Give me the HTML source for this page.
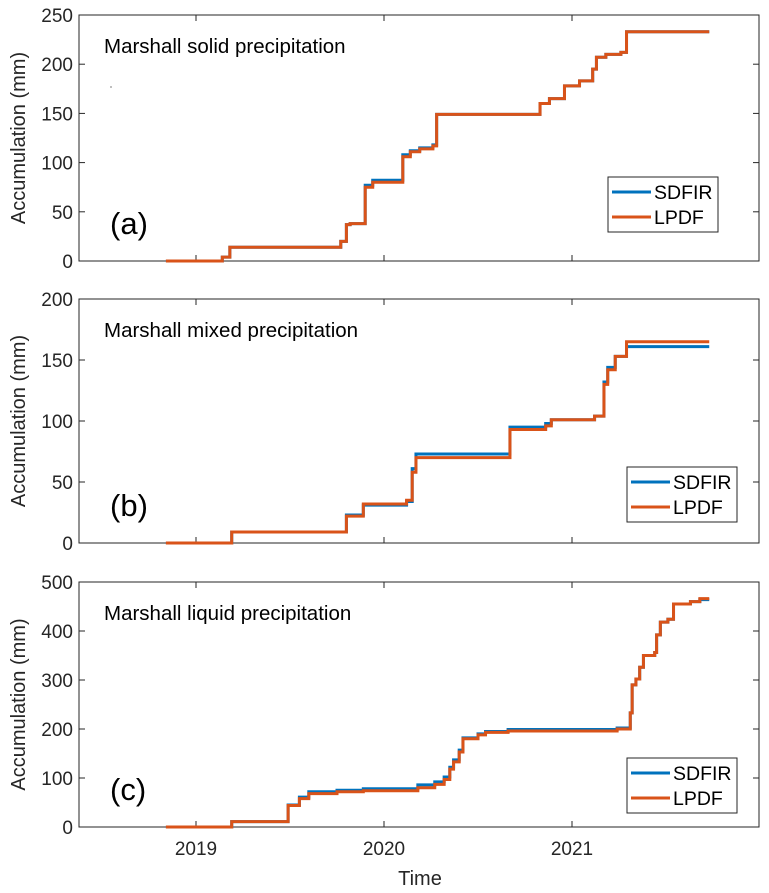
<!DOCTYPE html>
<html><head><meta charset="utf-8">
<style>
body{margin:0;background:#fff;}
svg{display:block;font-family:"Liberation Sans",Arial,sans-serif;}
</style></head>
<body>
<svg id="chart" width="769" height="893" viewBox="0 0 769 893"></svg>
<script>
// ---------- data ----------
const xTicks = [2019, 2020, 2021];
const xTickLabels = ["2019", "2020", "2021"];
const ticksA = [0, 50, 100, 150, 200, 250];
const ticksB = [0, 50, 100, 150, 200];
const ticksC = [0, 100, 200, 300, 400, 500];
const startT = 2018.84, endT = 2021.73;
// panel a: solid (change points: time, value)
const solidT =      [2018.84, 2019.14, 2019.18, 2019.77, 2019.80, 2019.82, 2019.90, 2019.94, 2020.09, 2020.10, 2020.14, 2020.19, 2020.26, 2020.28, 2020.81, 2020.83, 2020.88, 2020.96, 2021.04, 2021.11, 2021.13, 2021.18, 2021.26, 2021.29];
const solidSDFIR =  [0, 4, 14, 20, 37, 38, 77, 82, 82, 108, 112, 115, 118, 149, 149, 160, 165, 178, 183, 195, 207, 210, 212, 233];
const solidLPDF =   [0, 4, 14, 20, 37, 38, 75, 80, 80, 106, 111, 114, 117, 149, 149, 160, 165, 178, 183, 195, 207, 210, 212, 233];
// panel b: mixed
const mixedT =      [2018.84, 2019.19, 2019.80, 2019.89, 2020.12, 2020.15, 2020.17, 2020.67, 2020.86, 2020.89, 2021.12, 2021.17, 2021.19, 2021.23, 2021.29];
const mixedSDFIR =  [0, 9, 23, 31, 34, 61, 73, 95, 98, 101, 104, 132, 144, 153, 161];
const mixedLPDF =   [0, 9, 22, 32, 35, 58, 70, 93, 96, 101, 104, 130, 142, 153, 165];
// panel c: liquid
const liquidT =     [2018.84, 2019.19, 2019.49, 2019.55, 2019.60, 2019.75, 2019.89, 2020.18, 2020.27, 2020.32, 2020.35, 2020.37, 2020.40, 2020.42, 2020.50, 2020.54, 2020.66, 2021.24, 2021.31, 2021.32, 2021.34, 2021.36, 2021.38, 2021.44, 2021.45, 2021.47, 2021.51, 2021.54, 2021.63, 2021.68];
const liquidSDFIR = [0, 11, 45, 61, 72, 75, 78, 86, 92, 102, 122, 137, 157, 182, 190, 195, 199, 202, 233, 290, 302, 326, 350, 356, 392, 418, 424, 455, 460, 464];
const liquidLPDF =  [0, 11, 44, 58, 68, 72, 74, 80, 87, 97, 118, 133, 153, 180, 188, 193, 196, 200, 233, 290, 302, 326, 350, 356, 392, 418, 424, 455, 460, 466];

const X0 = 79, X1 = 759;
function xs(t){ return 196 + (t - 2019) * 188; }
const panels = [
  {id:"a", top:15, bot:261, max:250, ticks:ticksA, t:solidT, s:solidSDFIR, l:solidLPDF, title:"Marshall solid precipitation", label:"(a)"},
  {id:"b", top:299, bot:543, max:200, ticks:ticksB, t:mixedT, s:mixedSDFIR, l:mixedLPDF, title:"Marshall mixed precipitation", label:"(b)"},
  {id:"c", top:582, bot:827, max:500, ticks:ticksC, t:liquidT, s:liquidSDFIR, l:liquidLPDF, title:"Marshall liquid precipitation", label:"(c)"}
];
const NS = "http://www.w3.org/2000/svg";
const svg = document.getElementById("chart");
function mk(tag, attrs, parent){
  const e = document.createElementNS(NS, tag);
  for (const k in attrs) e.setAttribute(k, attrs[k]);
  (parent || svg).appendChild(e);
  return e;
}
const legendPos = {a:[608,177], b:[627,467], c:[627,758]};
panels.forEach(p => {
  const g = mk("g", {});
  
  
  const ys = v => p.bot - v / p.max * (p.bot - p.top);
  const box = mk("rect", {x:X0, y:p.top, width:X1-X0, height:p.bot-p.top, fill:"#fff", stroke:"#262626", "stroke-width":1}, g);
  
  
  p.ticks.forEach(v => {
    const y = ys(v);
    mk("line", {x1:X0, x2:X0+6, y1:y, y2:y, stroke:"#262626"}, g);
    mk("line", {x1:X1, x2:X1-6, y1:y, y2:y, stroke:"#262626"}, g);
    const t = mk("text", {x:X0-6, y:y+7, "text-anchor":"end", "font-size":19, fill:"#262626"}, g);
    t.textContent = v;
    
    
  });
  xTicks.forEach((tk, i) => {
    const x = xs(tk);
    mk("line", {x1:x, x2:x, y1:p.bot, y2:p.bot-6, stroke:"#262626"}, g);
    mk("line", {x1:x, x2:x, y1:p.top, y2:p.top+6, stroke:"#262626"}, g);
    if (p.id === "c") {
      const t = mk("text", {x:x, y:855, "text-anchor":"middle", "font-size":19, fill:"#262626"}, g);
      t.textContent = xTickLabels[i];
      
      
    }
  });
  const cy = (p.top + p.bot) / 2;
  const yt = mk("text", {x:0, y:0, transform:`translate(25,${cy}) rotate(-90)`, "text-anchor":"middle", "font-size":20, fill:"#262626"}, g);
  yt.textContent = "Accumulation (mm)";
  
  
  function path(vals){
    let d = `M${xs(p.t[0])},${ys(vals[0])}`;
    for (let i = 1; i < p.t.length; i++) d += ` H${xs(p.t[i])} V${ys(vals[i])}`;
    d += ` H${xs(endT)}`;
    return d;
  }
  const s1 = mk("path", {d:path(p.s), fill:"none", stroke:"#0072BD", "stroke-width":3}, g);
  
  
  const s2 = mk("path", {d:path(p.l), fill:"none", stroke:"#D95319", "stroke-width":3}, g);
  
  
  const tt = mk("text", {x:104, y:p.top+38, "font-size":20.5, fill:"#000"}, g);
  tt.textContent = p.title;
  
  
  const lb = mk("text", {x:110, y:p.bot-27, "font-size":31, fill:"#000"}, g);
  lb.textContent = p.label;
  
  
  const [lx, ly] = legendPos[p.id];
  const lg = mk("g", {}, g);
  
  
  mk("rect", {x:lx, y:ly, width:110, height:55, fill:"#fff", stroke:"#262626"}, lg);
  [["SDFIR","#0072BD",15],["LPDF","#D95319",40]].forEach(([n,c,dy]) => {
    mk("line", {x1:lx+4, x2:lx+43, y1:ly+dy, y2:ly+dy, stroke:c, "stroke-width":3}, lg);
    const lt = mk("text", {x:lx+46, y:ly+dy+7, "font-size":19.5, fill:"#000"}, lg);
    lt.textContent = n;
    
    
  });
});
mk("rect", {x:110.5, y:86.5, width:1, height:1, fill:"#000"});
const xt = mk("text", {x:420, y:885, "text-anchor":"middle", "font-size":20, fill:"#262626"});
xt.textContent = "Time";


</script>
</body></html>
